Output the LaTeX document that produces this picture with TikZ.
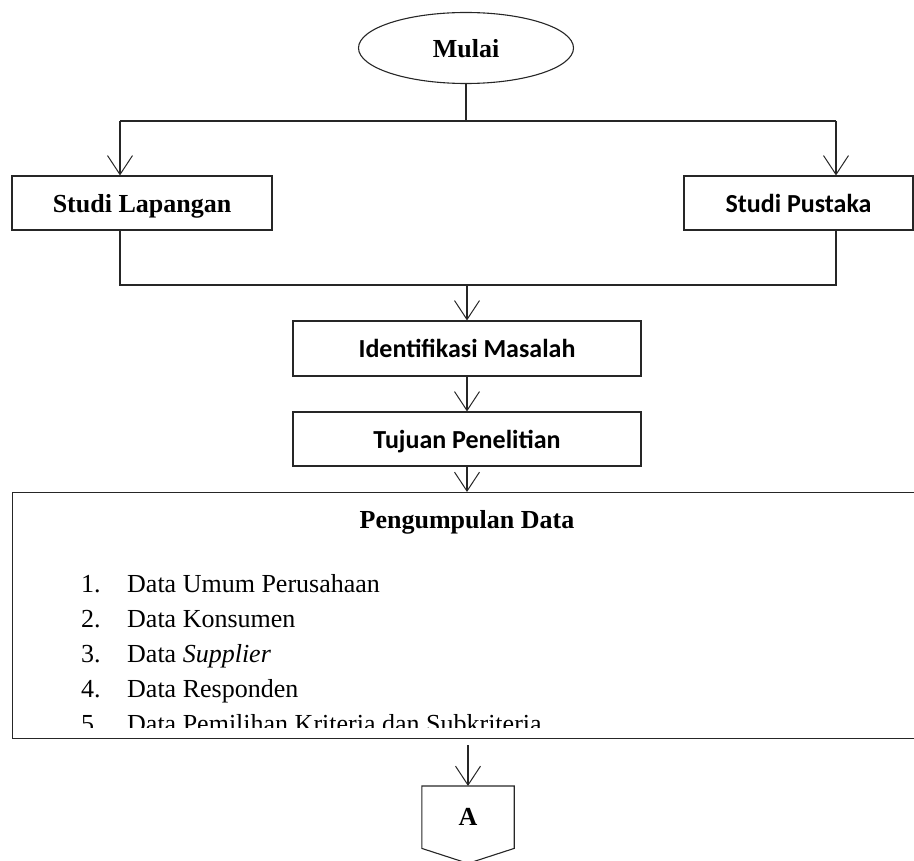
\documentclass[tikz,border=0pt]{standalone}
\usepackage{fontspec}
\setmainfont{Liberation Serif}
\newfontfamily\calibri{Carlito}
\usetikzlibrary{arrows.meta,shapes.geometric,calc}
\begin{document}
\begin{tikzpicture}[x=1pt,y=-1pt,
  line/.style={draw=black!85, line width=1.1pt},
  arr/.style={line, -{Straight Barb[length=19pt,width=25pt,line width=1pt]}},
  box/.style={draw=black!85, line width=1.1pt, rectangle, inner sep=0pt, fill=white},
  serifb/.style={font=\fontsize{26}{31}\selectfont\bfseries, text depth=0pt},
  sansb/.style={font=\fontsize{26}{31}\selectfont\calibri\bfseries, text depth=0pt},
  item/.style={font=\fontsize{26}{31}\selectfont, anchor=base west, inner sep=0pt},
]
\useasboundingbox (0,0) rectangle (914,861);
\clip (0,0) rectangle (914,861);

% start terminal
\node[draw=black!85, line width=1.1pt, ellipse, minimum width=215pt, minimum height=71pt,
      inner sep=0pt, serifb] (mulai) at (466,48) {Mulai};

% two studies
\node[box, serifb, minimum width=260pt, minimum height=54pt] (lapangan) at (142,203) {Studi Lapangan};
\node[box, sansb, minimum width=229pt, minimum height=54pt] (pustaka) at (798.5,203) {Studi Pustaka};

% problem and goal
\node[box, sansb, minimum width=348pt, minimum height=55pt] (identifikasi) at (467,348.5) {Identifikasi Masalah};
\node[box, sansb, minimum width=348pt, minimum height=54pt] (tujuan) at (467,439) {Tujuan Penelitian};

% data collection box (runs past the right edge)
\node[box, line width=1.3pt, minimum width=918pt, minimum height=246pt, anchor=north west] (pd) at (12,492) {};
\node[serifb, anchor=base, inner sep=0pt] (pdt) at (467,528) {Pengumpulan Data};
\begin{scope}
  \clip (13,493) rectangle (914,727);
  \foreach \n/\t [count=\i from 0] in {1./Data Umum Perusahaan, 2./Data Konsumen,
      3./Data \textit{Supplier}, 4./Data Responden, 5./Data Pemilihan Kriteria dan Subkriteria}{
    \node[item] (num\i) at (81,592+35*\i) {\n};
    \node[item] (txt\i) at (127,592+35*\i) {\t};
  }
\end{scope}

% off-page connector
\node[minimum width=92pt, minimum height=62pt, inner sep=0pt, anchor=north, serifb] (A) at (468,786) {A};
\draw[line] (A.north west) -- (A.north east) -- (A.south east) -- ($(A.south)+(0,15)$) -- (A.south west) -- cycle;

% connectors
\coordinate (j1) at (120,121);
\coordinate (j2) at (836,121);
\draw[line] (mulai.south) -- (mulai.south |- j1);
\draw[line] (j1) -- (j2);
\draw[arr] (j1) -- (j1 |- lapangan.north);
\draw[arr] (j2) -- (j2 |- pustaka.north);

\coordinate (k1) at (120,285);
\coordinate (k2) at (836,285);
\draw[line] (k1 |- lapangan.south) -- (k1) -- (k2) -- (k2 |- pustaka.south);
\draw[arr] (identifikasi.north |- k1) -- (identifikasi.north);
\draw[arr] (identifikasi.south) -- (tujuan.north);
\draw[arr] (tujuan.south) -- (tujuan.south |- pd.north);

\coordinate (a0) at (468,745);
\draw[arr] (a0) -- (A.north);
\end{tikzpicture}
\end{document}
